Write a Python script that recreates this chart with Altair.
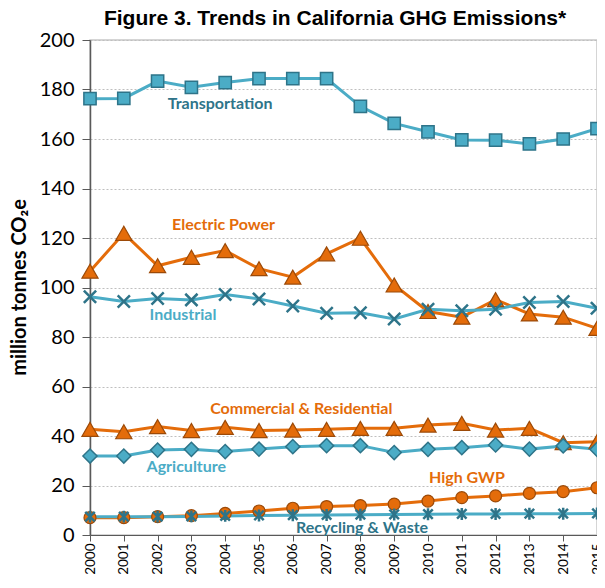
import altair as alt
import pandas as pd

years = list(range(2000, 2016))
series_names = ["Transportation", "Electric Power", "Industrial",
                "Commercial & Residential", "Agriculture", "High GWP",
                "Recycling & Waste"]
transportation = [176.3, 176.4, 183.4, 180.9, 182.8, 184.4, 184.4, 184.4,
                  173.2, 166.3, 162.9, 159.6, 159.5, 158.0, 160.0, 164.2]
electric_power = [106.6, 121.9, 108.8, 112.2, 114.9, 107.6, 104.2, 113.6,
                  119.9, 101.0, 90.3, 88.0, 95.1, 89.3, 88.0, 83.5]
industrial = [96.3, 94.3, 95.6, 95.0, 97.2, 95.4, 92.5, 89.6,
              89.8, 87.3, 91.2, 90.6, 91.2, 93.9, 94.3, 91.6]
commercial_residential = [42.7, 41.7, 43.8, 42.2, 43.5, 42.2, 42.4, 42.7,
                          43.1, 43.1, 44.4, 45.1, 42.4, 43.1, 37.3, 37.7]
agriculture = [31.9, 31.9, 34.3, 34.6, 33.7, 34.7, 35.7, 36.1,
               36.1, 33.3, 34.6, 35.3, 36.4, 34.7, 36.0, 34.6]
high_gwp = [7.0, 7.0, 7.4, 7.8, 8.7, 9.7, 10.8, 11.5,
            11.9, 12.5, 13.7, 15.1, 15.8, 16.8, 17.5, 19.1]
recycling_waste = [7.4, 7.4, 7.4, 7.5, 7.7, 7.9, 8.0, 8.1,
                   8.2, 8.3, 8.4, 8.5, 8.5, 8.6, 8.6, 8.7]
y_ticks = [0, 20, 40, 60, 80, 100, 120, 140, 160, 180, 200]

label_text = series_names
label_x = [2003.85, 2003.95, 2002.75, 2006.25, 2002.85, 2011.15, 2008.05]
label_y = [174.0, 125.3, 88.9, 50.8, 27.6, 22.9, 2.7]

title_text = "Figure 3. Trends in California GHG Emissions*"

teal = "#4BACC6"
teal_dark = "#2E7489"
orange = "#E46C0A"
orange_dark = "#9C4A08"
X_PATH = "M-1,-1L1,1M-1,1L1,-1"
AST_PATH = "M-1,-1L1,1M-1,1L1,-1M0,-1.25L0,1.25"

styles = {
    "Transportation": dict(line=teal, fill=teal, stroke=teal_dark, shape="square", size=150, sw=1.5, lab=teal_dark),
    "Electric Power": dict(line=orange, fill=orange, stroke=orange_dark, shape="triangle-up", size=260, sw=1.2, lab=orange),
    "Industrial": dict(line=teal, fill="transparent", stroke=teal_dark, shape=X_PATH, size=150, sw=2.5, lab=teal),
    "Commercial & Residential": dict(line=orange, fill=orange, stroke=orange_dark, shape="triangle-up", size=260, sw=1.2, lab=orange),
    "Agriculture": dict(line=teal, fill=teal, stroke=teal_dark, shape="diamond", size=200, sw=1.5, lab=teal),
    "High GWP": dict(line=orange, fill=orange, stroke=orange_dark, shape="circle", size=144, sw=1.2, lab=orange),
    "Recycling & Waste": dict(line=teal, fill="transparent", stroke=teal_dark, shape=AST_PATH, size=90, sw=2.5, lab=teal_dark),
}

values = [transportation, electric_power, industrial, commercial_residential,
          agriculture, high_gwp, recycling_waste]
rows = []
for name, vals in zip(series_names, values):
    for yr, v in zip(years, vals):
        rows.append({"series": name, "year": yr, "value": v})
df = pd.DataFrame(rows)

labels_df = pd.DataFrame({"text": label_text, "x": label_x, "y": label_y})

PLOT_W = 507
x_scale = alt.Scale(domain=[2000, 2015], nice=False, zero=False)
y_scale = alt.Scale(domain=[0, 200], nice=False)

x_axis = alt.Axis(values=years, format="d", labelAngle=-90, labelFont="Lato",
                  labelFontSize=13.5, labelColor="#000000", grid=False,
                  labelOverlap=False, labelBound=False, labelFlush=False,
                  tickSize=6, tickColor="#595959", domainColor="#595959",
                  labelPadding=2, title=None)
y_axis = alt.Axis(values=y_ticks, labelFont="Lato", labelFontSize=20,
                  labelColor="#000000", grid=True, gridColor="#BFBFBF",
                  gridDash=[2, 2], gridWidth=1, tickSize=8, tickColor="#595959",
                  domainColor="#595959", domainWidth=1.5, labelPadding=8,
                  labelOverlap=False,
                  title="million tonnes CO₂e", titleFont="Lato",
                  titleFontSize=20, titleFontWeight="bold", titleColor="#000000",
                  titleX=-71, titleY=247, titleAlign="center",
                  titleBaseline="middle", titleAngle=-90)

X_ENC = alt.X("year:Q", scale=x_scale, axis=x_axis)
Y_ENC = alt.Y("value:Q", scale=y_scale, axis=y_axis)

base = alt.Chart(df)
layers = []
for name in series_names:
    st = styles[name]
    sub = base.transform_filter(alt.datum.series == name)
    ln = sub.mark_line(color=st["line"], strokeWidth=3).encode(x=X_ENC, y=Y_ENC)
    layers.append(ln)
for name in series_names:
    st = styles[name]
    sub = base.transform_filter(alt.datum.series == name)
    pt = sub.mark_point(shape=st["shape"], size=st["size"], filled=False,
                        fill=st["fill"], stroke=st["stroke"],
                        strokeWidth=st["sw"], opacity=1, fillOpacity=1).encode(
        x=X_ENC, y=Y_ENC)
    layers.append(pt)

label_colors = [styles[n]["lab"] for n in series_names]
txt = alt.Chart(labels_df).mark_text(font="Lato", fontSize=16,
                                     fontWeight="bold", align="center",
                                     baseline="middle").encode(
    x=alt.X("x:Q", scale=x_scale, axis=x_axis),
    y=alt.Y("y:Q", scale=y_scale, axis=y_axis),
    text="text:N",
    color=alt.Color("text:N", scale=alt.Scale(domain=label_text, range=label_colors), legend=None),
)
layers.append(txt)

title_mark = alt.Chart(pd.DataFrame({"t": [title_text]})).mark_text(
    font="Liberation Sans", fontSize=21, fontWeight="bold", color="#000000",
    align="center", baseline="alphabetic"
).encode(x=alt.value(245), y=alt.value(-15), text="t:N")
layers.append(title_mark)

chart = alt.layer(*layers).properties(
    width=PLOT_W, height=495,
    autosize=alt.AutoSizeParams(type="none"),
    padding={"left": 82, "top": 32, "right": 0, "bottom": 39},
).configure_view(stroke="#C8C8C8", strokeWidth=1.5)

chart.save("out.html", embed_options={"renderer": "svg", "actions": False})
